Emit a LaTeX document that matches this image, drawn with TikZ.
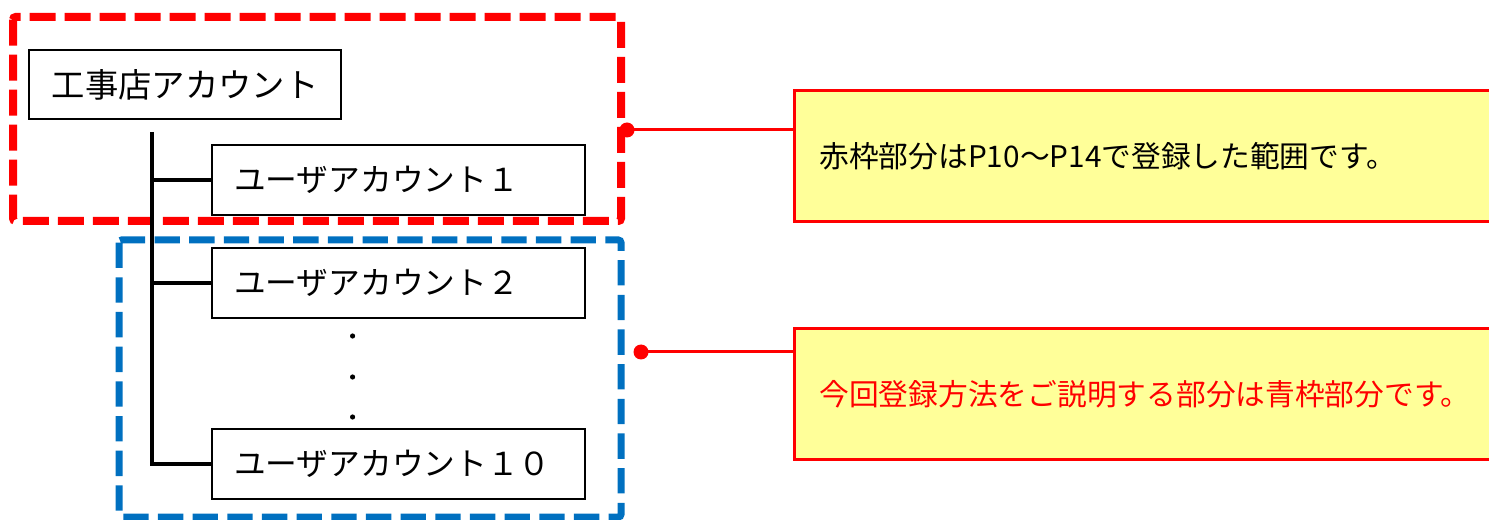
\documentclass[tikz,border=0pt]{standalone}
\usepackage{fontspec}
\newfontfamily\jp{Noto Sans CJK JP}
\definecolor{frred}{RGB}{255,0,0}
\definecolor{frblue}{RGB}{0,112,192}
\definecolor{noteyellow}{RGB}{255,255,153}
\begin{document}
\begin{tikzpicture}[x=0.75pt,y=-0.75pt,
  acctbox/.style={draw=black,line width=1.5pt,minimum width=234pt,minimum height=51.75pt,inner sep=0pt,font=\jp\fontsize{25pt}{29pt}\selectfont},
  userbox/.style={draw=black,line width=1.5pt,minimum height=52.5pt,inner xsep=16.5pt,inner ysep=0pt,text width=246.75pt,align=left,font=\jp\fontsize{23.8pt}{28pt}\selectfont},
  notebox/.style={draw=frred,fill=noteyellow,line width=2.25pt,minimum height=98pt,inner xsep=18.75pt,inner ysep=0pt,text width=489pt,align=left,font=\jp\fontsize{22.3pt}{27pt}\selectfont},
  redframe/.style={draw=frred,line width=6pt,dash pattern=on 19.5pt off 6.75pt,rounded corners=2pt},
  blueframe/.style={draw=frblue,line width=5.25pt,dash pattern=on 19pt off 7pt,rounded corners=2pt},
  treeline/.style={draw=black,line width=2.8pt},
  leader/.style={draw=frred,line width=2.25pt},
  leaddot/.style={fill=frred,draw=none},
  ell/.style={fill=black,draw=none}
]
\useasboundingbox (0,0) rectangle (1489,520);
\clip (0,0) rectangle (1489,520);

% frames
\draw[redframe] (13,17) rectangle (621,221);
\draw[blueframe] (119,240) rectangle (621,517);

% boxes
\node[acctbox] (acct) at (185,84.5) {工事店アカウント};
\node[userbox] (u1) at (398.5,180) {ユーザアカウント１};
\node[userbox] (u2) at (398.5,283) {ユーザアカウント２};
\node[userbox] (u10) at (398.5,464) {ユーザアカウント１０};

% tree
\coordinate (trunk) at (152,132);
\draw[treeline] (trunk) |- (u10.west);
\draw[treeline] (trunk |- u1.west) -- (u1.west);
\draw[treeline] (trunk |- u2.west) -- (u2.west);

% ellipsis dots
\fill[ell] (352.6,336) circle (2.6) coordinate (e1);
\fill[ell] (352.6,377) circle (2.6) coordinate (e2);
\fill[ell] (352.6,417) circle (2.6) coordinate (e3);

% notes
\node[notebox,anchor=north west] (n1) at (793,89) {赤枠部分はP10～P14で登録した範囲です。};
\node[notebox,anchor=north west,text=frred] (n2) at (793,327) {今回登録方法をご説明する部分は青枠部分です。};

% leaders
\coordinate (d1) at (627,130);
\coordinate (d2) at (641,352);
\draw[leader] (d1) -- (d1 -| n1.west);
\draw[leader] (d2) -- (d2 -| n2.west);
\fill[leaddot] (d1) circle (7.5);
\fill[leaddot] (d2) circle (7.5);
\end{tikzpicture}
\end{document}
